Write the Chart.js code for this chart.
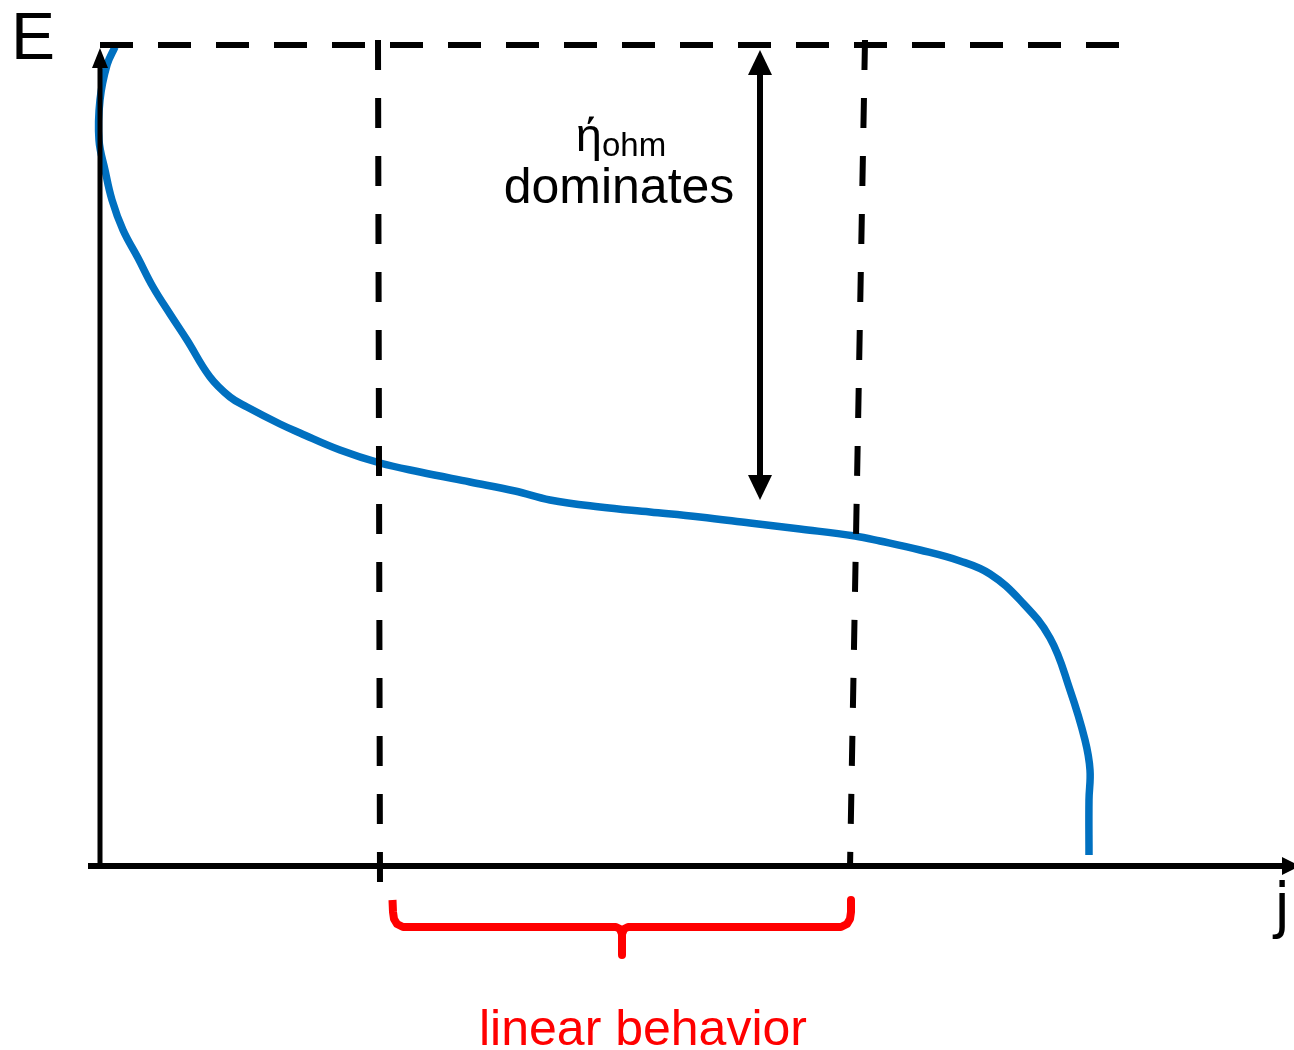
<!DOCTYPE html>
<html><head><meta charset="utf-8">
<script src="https://cdn.jsdelivr.net/npm/chart.js@4"></script>
<style>html,body{margin:0;padding:0;background:#fff}#wrap{width:1294px;height:1050px}</style>
</head><body><div id="wrap"><canvas id="c" width="1294" height="1050"></canvas></div>
<script>
// Polarization curve (j, E) in arbitrary units
const curveJ = [0.15,0.07,0.00,-0.01,0.05,0.12,0.23,0.38,0.53,0.70,0.87,1.10,1.30,1.47,1.80,2.00,2.40,2.80,3.20,3.70,4.15,4.50,5.00,5.50,6.00,6.50,7.00,7.55,7.80,8.20,8.60,8.90,9.20,9.50,9.70,9.85,9.90,9.89,9.89];
const curveE = [8.18,8.00,7.65,7.25,6.95,6.65,6.35,6.07,5.78,5.51,5.25,4.88,4.68,4.58,4.41,4.32,4.15,4.02,3.93,3.83,3.74,3.65,3.58,3.53,3.48,3.42,3.36,3.29,3.24,3.15,3.04,2.91,2.65,2.27,1.75,1.25,0.95,0.65,0.10];
// Axes
const yAxisJ = [0, 0];        const yAxisE = [0, 8.0];
const xAxisJ = [-0.12, 11.9]; const xAxisE = [-0.01, -0.01];
// Dashed guide lines
const topDashJ = [0, 10.3];      const topDashE = [8.20, 8.20];
const leftDashJ = [2.78, 2.80];  const leftDashE = [8.25, -0.20];
const rightDashJ = [7.65, 7.50]; const rightDashE = [8.25, -0.03];
// Double arrow (ohmic overpotential)
const ohmArrowJ = [6.60, 6.60];  const ohmArrowE = [7.95, 3.90];
// Bracket under the linear region
const bracketLJ = [2.925,2.93,2.94,2.97,3.03,5.16,5.20,5.22,5.22];
const bracketLE = [-0.35,-0.47,-0.54,-0.59,-0.62,-0.62,-0.64,-0.69,-0.90];
const bracketRJ = [7.51,7.51,7.50,7.47,7.41,5.28,5.24,5.22];
const bracketRE = [-0.35,-0.47,-0.54,-0.59,-0.62,-0.62,-0.64,-0.69];
// Arrow tips: [j, E, direction]
const arrowTips = [[0, 8.17, 'up'], [6.60, 8.15, 'up'], [6.60, 3.65, 'down'], [12.0, -0.01, 'right']];
// Labels (baseline positions)
const labelTexts = ['E', 'dominates', 'linear behavior', 'j'];
const labelJ = [-0.67, 5.19, 5.43, 11.82];
const labelE = [8.06, 6.62, -1.80, -0.61];

const pts = (xs, ys) => xs.map((x, i) => ({x, y: ys[i]}));
const line = (xs, ys, color, width, dash) => ({
  data: pts(xs, ys), showLine: true, borderColor: color, borderWidth: width,
  borderDash: dash || [], pointRadius: 0, fill: false, tension: 0,
  borderCapStyle: 'butt', borderJoinStyle: 'round'
});

const decor = {
  id: 'decor',
  afterDatasetsDraw(chart) {
    const {ctx, scales: {x, y}} = chart;
    ctx.save();
    ctx.fillStyle = '#000';
    arrowTips.forEach(([j, e, dir], i) => {
      const px = x.getPixelForValue(j), py = y.getPixelForValue(e);
      const w = i === 0 ? 8 : 12, h = i === 0 ? 20 : 25;
      ctx.beginPath();
      if (dir === 'up') { ctx.moveTo(px, py); ctx.lineTo(px - w, py + h); ctx.lineTo(px + w, py + h); }
      else if (dir === 'down') { ctx.moveTo(px, py); ctx.lineTo(px - w, py - h); ctx.lineTo(px + w, py - h); }
      else { ctx.moveTo(px, py); ctx.lineTo(px - 18, py - 9); ctx.lineTo(px - 18, py + 9); }
      ctx.closePath(); ctx.fill();
    });
    ctx.textAlign = 'center'; ctx.textBaseline = 'alphabetic';
    const fonts = ['66px "Liberation Sans", Arial', '50px "Liberation Sans", Arial', '50px "Liberation Sans", Arial', '60px "DejaVu Sans", sans-serif'];
    const colors = ['#000', '#000', '#ff0000', '#000'];
    labelTexts.forEach((t, i) => {
      ctx.font = fonts[i]; ctx.fillStyle = colors[i];
      ctx.fillText(t, x.getPixelForValue(labelJ[i]), y.getPixelForValue(labelE[i]));
    });
    // eta_ohm label
    ctx.fillStyle = '#000';
    ctx.textAlign = 'left';
    const cx = x.getPixelForValue(5.21), by = y.getPixelForValue(7.14);
    ctx.font = '47px "Liberation Sans", Arial';
    const w1 = ctx.measureText('\u03AE').width;
    ctx.font = '33px "Liberation Sans", Arial';
    const w2 = ctx.measureText('ohm').width;
    const sx = cx - (w1 + w2) / 2;
    ctx.font = '47px "Liberation Sans", Arial';
    ctx.fillText('\u03AE', sx, by);
    ctx.font = '33px "Liberation Sans", Arial';
    ctx.fillText('ohm', sx + w1, by + 5);
    ctx.restore();
  }
};

new Chart(document.getElementById('c'), {
  type: 'scatter',
  data: { datasets: [
    line(topDashJ, topDashE, '#000', 6, [33, 25]),
    line(leftDashJ, leftDashE, '#000', 6, [30, 28]),
    line(rightDashJ, rightDashE, '#000', 6, [30, 28]),
    line(yAxisJ, yAxisE, '#000', 5),
    line(xAxisJ, xAxisE, '#000', 6),
    line(ohmArrowJ, ohmArrowE, '#000', 6),
    Object.assign(line(curveJ, curveE, '#0070C0', 7.5), {tension: 0.4}),
    line(bracketLJ, bracketLE, '#ff0000', 8),
    line(bracketRJ, bracketRE, '#ff0000', 8)
  ]},
  options: {
    responsive: false, devicePixelRatio: 1, animation: false,
    layout: { padding: 0 },
    plugins: { legend: { display: false }, tooltip: { enabled: false } },
    scales: {
      x: { type: 'linear', min: -1, max: 11.94, display: false },
      y: { type: 'linear', min: -1.85, max: 8.65, display: false }
    }
  },
  plugins: [decor]
});
</script></body></html>
